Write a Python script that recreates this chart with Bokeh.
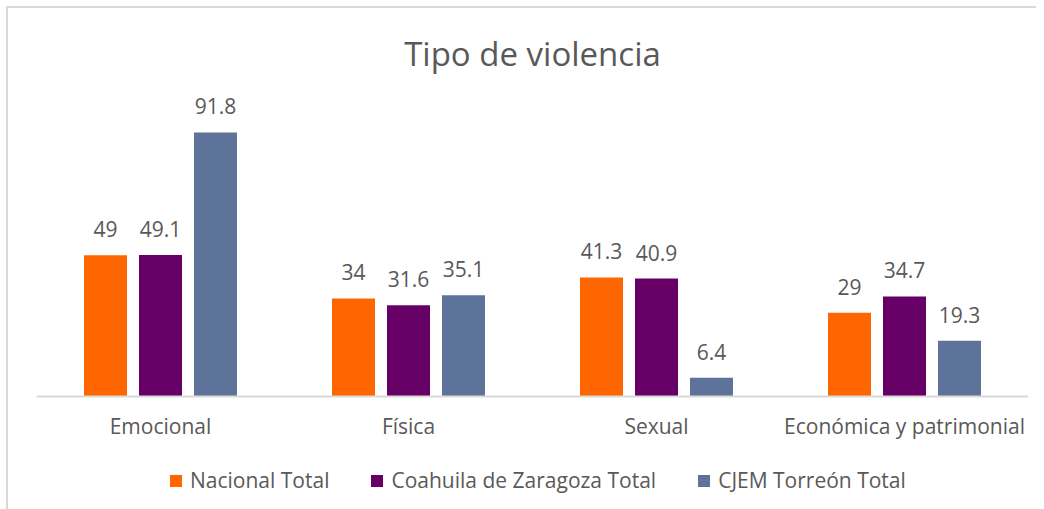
from bokeh.plotting import figure
from bokeh.models import ColumnDataSource, FactorRange, Range1d, Legend, LegendItem, LabelSet
from bokeh.core.properties import value
from bokeh.transform import dodge
from bokeh.embed import file_html
from bokeh.resources import INLINE

categories = ["Emocional", "Física", "Sexual", "Económica y patrimonial"]
series_names = ["Nacional Total", "Coahuila de Zaragoza Total", "CJEM Torreón Total"]
nacional = [49, 34, 41.3, 29]
coahuila = [49.1, 31.6, 40.9, 34.7]
torreon = [91.8, 35.1, 6.4, 19.3]
nacional_lbl = ["49", "34", "41.3", "29"]
coahuila_lbl = ["49.1", "31.6", "40.9", "34.7"]
torreon_lbl = ["91.8", "35.1", "6.4", "19.3"]

colors = ["#FF6600", "#660066", "#5E7399"]
FONT = "Open Sans"
TXT = "#595959"

src = ColumnDataSource(dict(cat=categories, nac=nacional, coa=coahuila, tor=torreon,
                            nac_l=nacional_lbl, coa_l=coahuila_lbl, tor_l=torreon_lbl))

p = figure(x_range=FactorRange(factors=categories, range_padding=0),
           y_range=Range1d(-39.5, 106.4),
           frame_width=992, frame_height=419,
           output_backend="svg", toolbar_location=None,
           min_border_left=28, min_border_right=8, min_border_top=82, min_border_bottom=0,
           title="Tipo de violencia")
p.styles = {"border-left": "2px solid #d9d9d9", "border-top": "2px solid #d9d9d9",
            "margin-left": "6px", "margin-top": "6px"}

p.title.text_font = FONT
p.title.text_font_size = "33px"
p.title.text_font_style = "normal"
p.title.text_color = TXT
p.title.align = "center"
p.title.standoff = 30

off = 55 / 248
bw = 43 / 248
keys = [("nac", "nac_l"), ("coa", "coa_l"), ("tor", "tor_l")]
renderers = []
for i, (k, kl) in enumerate(keys):
    d = (i - 1) * off
    r = p.vbar(x=dodge("cat", d, range=p.x_range), top=k, width=bw, source=src,
               fill_color=colors[i], line_color=None)
    renderers.append(r)
    labels = LabelSet(x=dodge("cat", d, range=p.x_range), y=k, text=kl, source=src,
                      text_align="center", text_baseline="alphabetic", y_offset=18,
                      text_font=value(FONT), text_font_size=value("21px"), text_color=value(TXT))
    p.add_layout(labels)

p.xgrid.visible = False
p.ygrid.visible = False
p.yaxis.visible = False
p.outline_line_color = None
p.xaxis.fixed_location = 0
p.xaxis.axis_line_color = "#d9d9d9"
p.xaxis.axis_line_width = 2
p.xaxis.major_tick_line_color = None
p.xaxis.minor_tick_line_color = None
p.xaxis.major_tick_out = 0
p.xaxis.minor_tick_out = 0
p.xaxis.major_label_text_font = FONT
p.xaxis.major_label_text_font_size = "21px"
p.xaxis.major_label_text_color = TXT
p.xaxis.major_label_standoff = 16
p.xaxis.axis_label = None

legend = Legend(items=[LegendItem(label=series_names[i], renderers=[renderers[i]]) for i in range(3)],
                orientation="horizontal", location=(132, 15),
                glyph_width=15, glyph_height=15, label_standoff=7, spacing=40,
                label_text_font=FONT, label_text_font_size="21px", label_text_color=TXT,
                border_line_color=None, background_fill_alpha=0, margin=0, padding=0)
p.add_layout(legend, "center")

open("out.html", "w").write(file_html(p, INLINE))
